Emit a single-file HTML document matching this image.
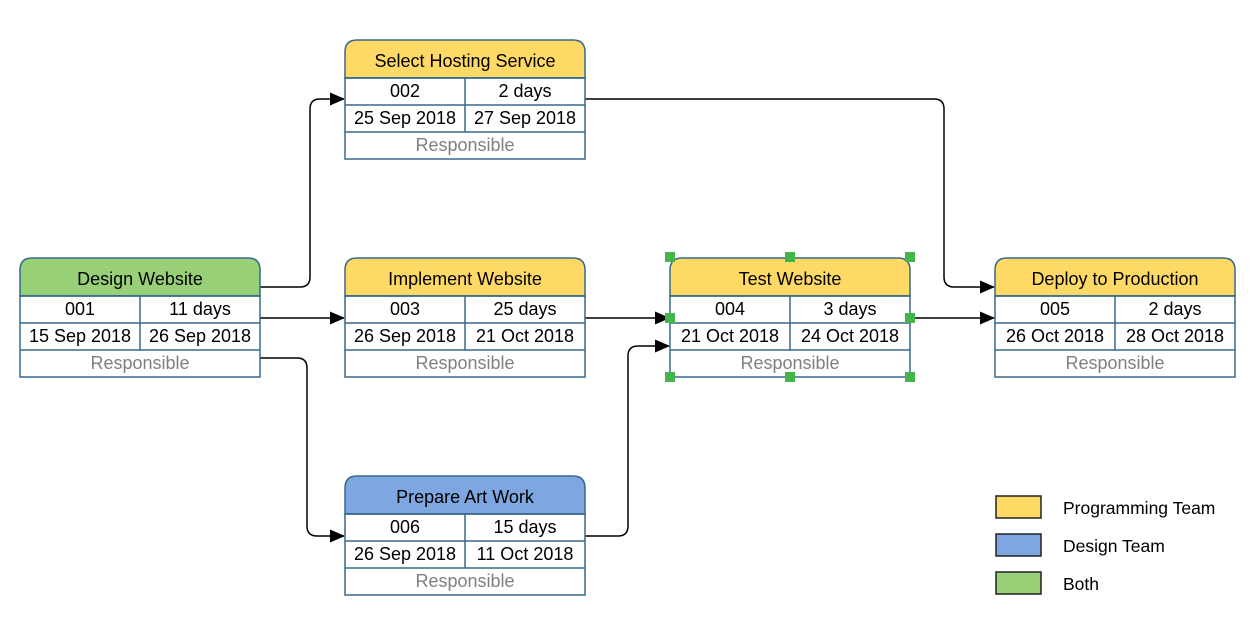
<!DOCTYPE html>
<html><head><meta charset="utf-8"><style>
html,body{margin:0;padding:0;background:#fff;}
svg{display:block;font-family:"Liberation Sans",Arial,sans-serif;}
</style></head><body>
<svg width="1249" height="643" viewBox="0 0 1249 643" xmlns="http://www.w3.org/2000/svg">
<defs>
<marker id="a" markerWidth="15" markerHeight="13" refX="14" refY="6.5" orient="auto" markerUnits="userSpaceOnUse">
<path d="M0,0 L15,6.5 L0,13 Z" fill="#000"/></marker>
</defs>
<g fill="none" stroke="#000" stroke-width="1.5">
<path d="M260 287 H300 Q310 287 310 277 V109 Q310 99 320 99 H344" marker-end="url(#a)"/>
<path d="M260 318 H344" marker-end="url(#a)"/>
<path d="M260 358 H297 Q307 358 307 368 V526 Q307 536 317 536 H344" marker-end="url(#a)"/>
<path d="M585 99 H934 Q944 99 944 109 V277 Q944 287 954 287 H994" marker-end="url(#a)"/>
<path d="M585 318 H669" marker-end="url(#a)"/>
<path d="M585 536 H618 Q628 536 628 526 V356 Q628 346 638 346 H669" marker-end="url(#a)"/>
<path d="M910 318 H994" marker-end="url(#a)"/>
</g>
<g stroke="#36698b" stroke-width="1.5" font-size="18" text-anchor="middle">
<g transform="translate(20,258)">
<path d="M0 38 V12 Q0 0 12 0 H228 Q240 0 240 12 V38 Z" fill="#97d077"/>
<rect x="0" y="38" width="240" height="81" fill="#fff"/>
<path d="M0 38 H240 M0 65 H240 M0 92 H240 M120 38 V92" fill="none"/>
<g stroke="none" fill="#000"><text x="120" y="27">Design Website</text><text x="60" y="57">001</text><text x="180" y="57">11 days</text><text x="60" y="84">15 Sep 2018</text><text x="180" y="84">26 Sep 2018</text><text x="120" y="111" fill="#808080">Responsible</text></g>
</g>
<g transform="translate(345,40)">
<path d="M0 38 V12 Q0 0 12 0 H228 Q240 0 240 12 V38 Z" fill="#ffd966"/>
<rect x="0" y="38" width="240" height="81" fill="#fff"/>
<path d="M0 38 H240 M0 65 H240 M0 92 H240 M120 38 V92" fill="none"/>
<g stroke="none" fill="#000"><text x="120" y="27">Select Hosting Service</text><text x="60" y="57">002</text><text x="180" y="57">2 days</text><text x="60" y="84">25 Sep 2018</text><text x="180" y="84">27 Sep 2018</text><text x="120" y="111" fill="#808080">Responsible</text></g>
</g>
<g transform="translate(345,258)">
<path d="M0 38 V12 Q0 0 12 0 H228 Q240 0 240 12 V38 Z" fill="#ffd966"/>
<rect x="0" y="38" width="240" height="81" fill="#fff"/>
<path d="M0 38 H240 M0 65 H240 M0 92 H240 M120 38 V92" fill="none"/>
<g stroke="none" fill="#000"><text x="120" y="27">Implement Website</text><text x="60" y="57">003</text><text x="180" y="57">25 days</text><text x="60" y="84">26 Sep 2018</text><text x="180" y="84">21 Oct 2018</text><text x="120" y="111" fill="#808080">Responsible</text></g>
</g>
<g transform="translate(345,476)">
<path d="M0 38 V12 Q0 0 12 0 H228 Q240 0 240 12 V38 Z" fill="#7ea6e0"/>
<rect x="0" y="38" width="240" height="81" fill="#fff"/>
<path d="M0 38 H240 M0 65 H240 M0 92 H240 M120 38 V92" fill="none"/>
<g stroke="none" fill="#000"><text x="120" y="27">Prepare Art Work</text><text x="60" y="57">006</text><text x="180" y="57">15 days</text><text x="60" y="84">26 Sep 2018</text><text x="180" y="84">11 Oct 2018</text><text x="120" y="111" fill="#808080">Responsible</text></g>
</g>
<g transform="translate(670,258)">
<path d="M0 38 V12 Q0 0 12 0 H228 Q240 0 240 12 V38 Z" fill="#ffd966"/>
<rect x="0" y="38" width="240" height="81" fill="#fff"/>
<path d="M0 38 H240 M0 65 H240 M0 92 H240 M120 38 V92" fill="none"/>
<g stroke="none" fill="#000"><text x="120" y="27">Test Website</text><text x="60" y="57">004</text><text x="180" y="57">3 days</text><text x="60" y="84">21 Oct 2018</text><text x="180" y="84">24 Oct 2018</text><text x="120" y="111" fill="#808080">Responsible</text></g>
</g>
<g transform="translate(995,258)">
<path d="M0 38 V12 Q0 0 12 0 H228 Q240 0 240 12 V38 Z" fill="#ffd966"/>
<rect x="0" y="38" width="240" height="81" fill="#fff"/>
<path d="M0 38 H240 M0 65 H240 M0 92 H240 M120 38 V92" fill="none"/>
<g stroke="none" fill="#000"><text x="120" y="27">Deploy to Production</text><text x="60" y="57">005</text><text x="180" y="57">2 days</text><text x="60" y="84">26 Oct 2018</text><text x="180" y="84">28 Oct 2018</text><text x="120" y="111" fill="#808080">Responsible</text></g>
</g>
</g>
<g fill="#44b549">
<rect x="665" y="252" width="10" height="10"/><rect x="785" y="252" width="10" height="10"/><rect x="905" y="252" width="10" height="10"/>
<rect x="665" y="313" width="10" height="10"/><rect x="905" y="313" width="10" height="10"/>
<rect x="665" y="372" width="10" height="10"/><rect x="785" y="372" width="10" height="10"/><rect x="905" y="372" width="10" height="10"/>
</g>
<g stroke="#222" stroke-width="1.5">
<rect x="996" y="496" width="45" height="22" fill="#ffd966"/>
<rect x="996" y="534" width="45" height="22" fill="#7ea6e0"/>
<rect x="996" y="572" width="45" height="22" fill="#97d077"/>
</g>
<g font-size="17.5" fill="#000">
<text x="1063" y="514">Programming Team</text>
<text x="1063" y="552">Design Team</text>
<text x="1063" y="590">Both</text>
</g>
</svg>
</body></html>
